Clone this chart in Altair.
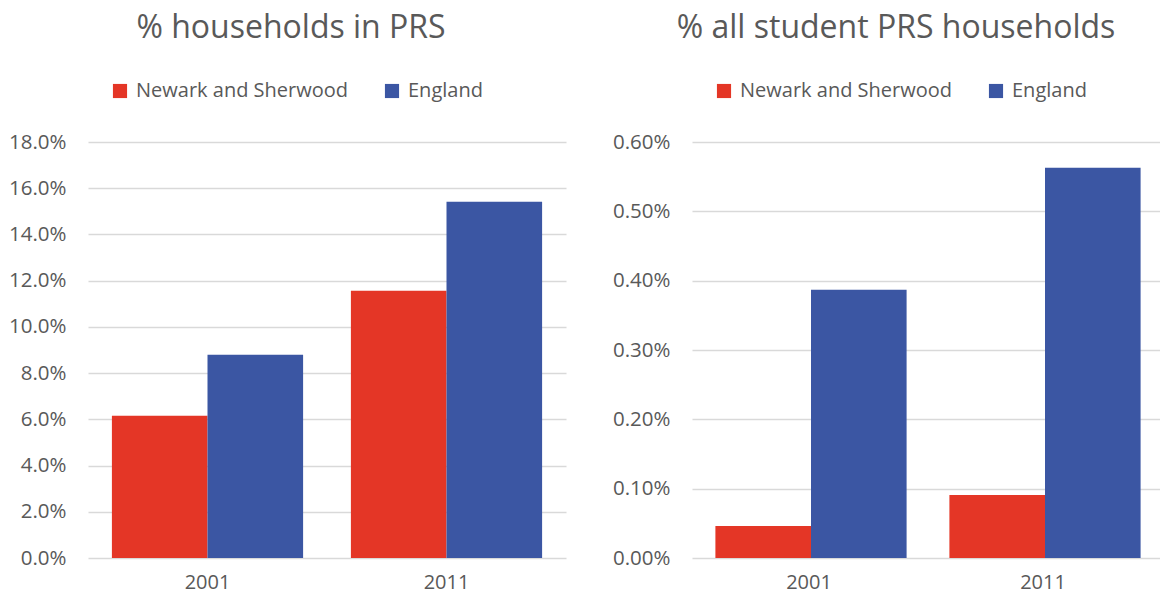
import altair as alt
import pandas as pd

years = ["2001", "2011"]
areas = ["Newark and Sherwood", "England"]
prs_ns = [0.0615, 0.1156]
prs_eng = [0.0879, 0.1541]
stu_ns = [0.00046, 0.00091]
stu_eng = [0.00387, 0.00563]

colors = ["#E43626", "#3B56A3"]
FONT = "Open Sans"
TXT = "#595959"

def make_df(ns, eng):
    rows = []
    for i, y in enumerate(years):
        rows.append({"year": y, "area": areas[0], "value": ns[i]})
        rows.append({"year": y, "area": areas[1], "value": eng[i]})
    return pd.DataFrame(rows)

def panel(df, title, fmt, ticks, ymax, width, tdx):
    return alt.Chart(df).mark_bar().encode(
        x=alt.X("year:N", title=None,
                scale=alt.Scale(paddingInner=0.2, paddingOuter=0.1),
                axis=alt.Axis(labelAngle=0, domain=False, ticks=False,
                              labelPadding=14, labelFontSize=20,
                              labelColor=TXT, labelFont=FONT)),
        xOffset=alt.XOffset("area:N", sort=areas),
        y=alt.Y("value:Q", title=None,
                scale=alt.Scale(domain=[0, ymax], nice=False),
                axis=alt.Axis(format=fmt, values=ticks, domain=False, ticks=False,
                              labelPadding=22, labelFontSize=20.5, labelColor=TXT,
                              labelFont=FONT, gridColor="#D9D9D9", gridWidth=1.5)),
        color=alt.Color("area:N", sort=areas,
                        scale=alt.Scale(domain=areas, range=colors),
                        legend=alt.Legend(title=None, orient="none", direction="horizontal",
                                          legendX=22, legendY=-61,
                                          symbolType="square", symbolSize=200,
                                          symbolStrokeWidth=0, symbolOpacity=1,
                                          labelFontSize=20, labelColor=TXT, labelFont=FONT,
                                          labelLimit=0, columnPadding=33, labelOffset=6)),
    ).properties(
        width=width, height=416,
        title=alt.TitleParams(title, fontSize=32, font=FONT, color=TXT,
                              fontWeight="normal", anchor="middle", dx=tdx, offset=36),
    )

left = panel(make_df(prs_ns, prs_eng), "% households in PRS", ".1%",
             [i * 0.02 for i in range(10)], 0.18, 478, -36)
right = panel(make_df(stu_ns, stu_eng), "% all student PRS households", ".2%",
              [i * 0.001 for i in range(7)], 0.006, 468, -30)

chart = alt.hconcat(left, right, spacing=46).resolve_scale(color="independent").properties(
    padding={"left": 0, "top": 4, "right": 0, "bottom": 0}
).configure_view(stroke=None)

chart.save("out.html", embed_options={"renderer": "svg", "actions": False})
